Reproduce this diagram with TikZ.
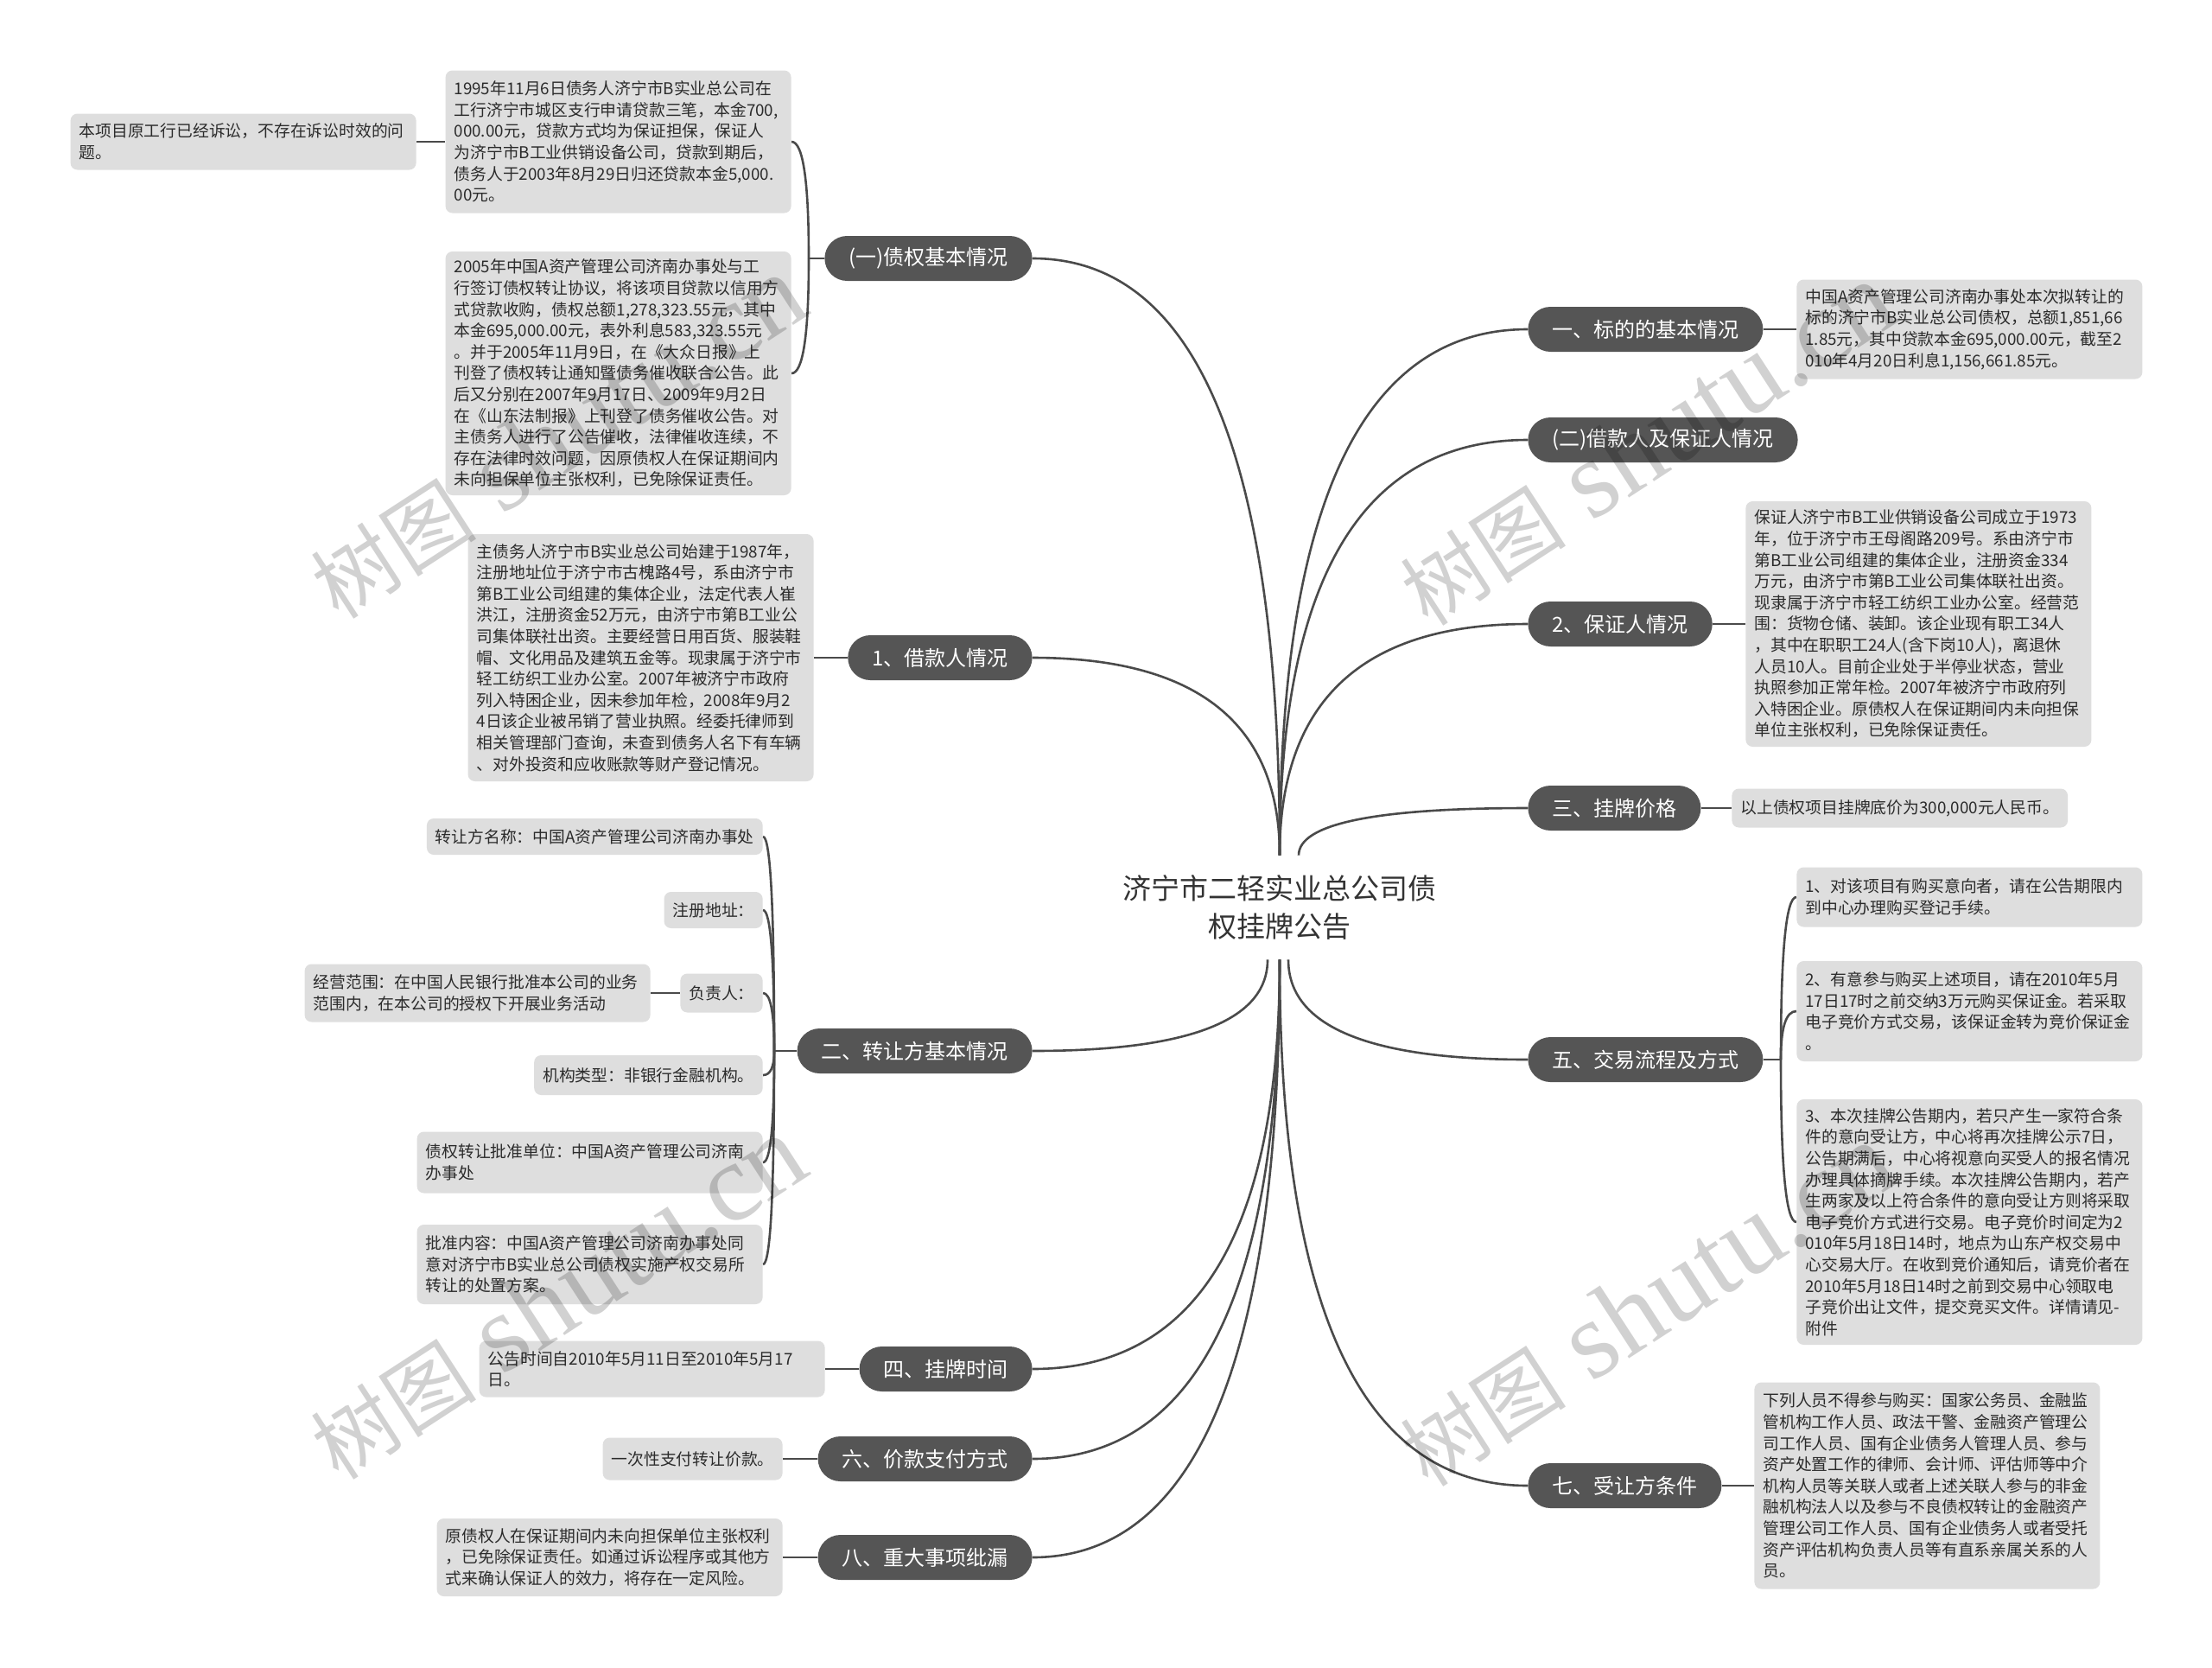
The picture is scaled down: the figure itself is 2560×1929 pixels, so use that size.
\documentclass[tikz,border=0pt]{standalone}
\usepackage{fontspec}
\setmainfont{Noto Sans CJK SC}
\newfontfamily\wmlatin{Liberation Serif}
\usetikzlibrary{calc}
\pgfdeclarelayer{bg}
\pgfsetlayers{bg,main}
\definecolor{pillc}{HTML}{555555}
\definecolor{linec}{HTML}{4A4A4A}
\definecolor{leafc}{HTML}{DEDEDE}
\definecolor{txtc}{HTML}{2B2B2B}
\definecolor{titlec}{HTML}{333333}
\newcommand\mmbranch[2]{\draw[conn] (#1) .. controls ($(#1)!0.6667!(#1|-#2)$) and ($(#2)!0.6667!(#1|-#2)$) .. (#2);}
\newcommand\wmtext{\fontsize{48pt}{48pt}\selectfont 树图\hspace{16pt}{\wmlatin\fontsize{64pt}{64pt}\selectfont shutu.cn}}
\begin{document}
\begin{tikzpicture}[x=0.5pt,y=-0.5pt,
  title/.style={align=center, text=titlec, minimum height=60pt, inner ysep=2pt, font=\fontsize{16.5pt}{22pt}\selectfont},
  pill/.style={fill=pillc, rounded corners=13pt, minimum height=26pt, inner xsep=14pt, inner ysep=0pt, text=white, font=\fontsize{12pt}{14pt}\selectfont},
  leaf/.style={fill=leafc, rounded corners=4pt, inner xsep=5pt, inner ysep=3pt, text=txtc, align=left, font=\fontsize{9.4pt}{12.3pt}\selectfont},
  wide/.style={text width=190pt},
  conn/.style={draw=linec, line width=1.3pt},
  wm/.style={rotate=33, text=black, text opacity=0.18, inner sep=0pt}
]
\useasboundingbox (0,0) rectangle (2560,1929);

% centre
\node[title] (C) at (1481,1050) {济宁市二轻实业总公司债\\权挂牌公告};

% main branches, right
\node[pill,anchor=west] (P1) at (1768,381) {一、标的的基本情况};
\node[pill,anchor=west] (P2) at (1768,509) {(二)借款人及保证人情况};
\node[pill,anchor=west] (P3) at (1768,722) {2、保证人情况};
\node[pill,anchor=west] (P4) at (1768,935) {三、挂牌价格};
\node[pill,anchor=west] (P5) at (1768,1226) {五、交易流程及方式};
\node[pill,anchor=west] (P6) at (1768,1719) {七、受让方条件};
% main branches, left
\node[pill,anchor=east] (Q1) at (1195,299) {(一)债权基本情况};
\node[pill,anchor=east] (Q2) at (1195,761) {1、借款人情况};
\node[pill,anchor=east] (Q3) at (1195,1216) {二、转让方基本情况};
\node[pill,anchor=east] (Q4) at (1195,1584) {四、挂牌时间};
\node[pill,anchor=east] (Q5) at (1195,1688) {六、价款支付方式};
\node[pill,anchor=east] (Q6) at (1195,1802) {八、重大事项纰漏};

% leaves, left
\node[leaf,wide,anchor=east,minimum height=82.5pt] (A1) at (916,164) {1995年11月6日债务人济宁市B实业总公司在\\工行济宁市城区支行申请贷款三笔，本金700,\\000.00元，贷款方式均为保证担保，保证人\\为济宁市B工业供销设备公司，贷款到期后，\\债务人于2003年8月29日归还贷款本金5,000.\\00元。};
\node[leaf,wide,anchor=east,minimum height=32.5pt] (A0) at (482,164) {本项目原工行已经诉讼，不存在诉讼时效的问\\题。};
\node[leaf,wide,anchor=east,minimum height=141pt] (A2) at (916,432) {2005年中国A资产管理公司济南办事处与工\\行签订债权转让协议，将该项目贷款以信用方\\式贷款收购，债权总额1,278,323.55元，其中\\本金695,000.00元，表外利息583,323.55元\\。并于2005年11月9日，在《大众日报》上\\刊登了债权转让通知暨债务催收联合公告。此\\后又分别在2007年9月17日、2009年9月2日\\在《山东法制报》上刊登了债务催收公告。对\\主债务人进行了公告催收，法律催收连续，不\\存在法律时效问题，因原债权人在保证期间内\\未向担保单位主张权利，已免除保证责任。};
\node[leaf,wide,anchor=east,minimum height=143pt] (B) at (942,761) {主债务人济宁市B实业总公司始建于1987年，\\注册地址位于济宁市古槐路4号，系由济宁市\\第B工业公司组建的集体企业，法定代表人崔\\洪江，注册资金52万元，由济宁市第B工业公\\司集体联社出资。主要经营日用百货、服装鞋\\帽、文化用品及建筑五金等。现隶属于济宁市\\轻工纺织工业办公室。2007年被济宁市政府\\列入特困企业，因未参加年检，2008年9月2\\4日该企业被吊销了营业执照。经委托律师到\\相关管理部门查询，未查到债务人名下有车辆\\、对外投资和应收账款等财产登记情况。};
\node[leaf,anchor=east,minimum height=21pt] (C1) at (883,968) {转让方名称：中国A资产管理公司济南办事处};
\node[leaf,anchor=east,minimum height=21pt] (C2) at (883,1053) {注册地址：};
\node[leaf,anchor=east,minimum height=22.5pt] (C3) at (883,1149) {负责人：};
\node[leaf,wide,anchor=east,minimum height=33.5pt] (C3a) at (753,1149) {经营范围：在中国人民银行批准本公司的业务\\范围内，在本公司的授权下开展业务活动};
\node[leaf,anchor=east,minimum height=23pt] (C4) at (883,1244) {机构类型：非银行金融机构。};
\node[leaf,wide,anchor=east,minimum height=35.5pt] (C5) at (883,1345) {债权转让批准单位：中国A资产管理公司济南\\办事处};
\node[leaf,wide,anchor=east,minimum height=46pt] (C6) at (883,1463) {批准内容：中国A资产管理公司济南办事处同\\意对济宁市B实业总公司债权实施产权交易所\\转让的处置方案。};
\node[leaf,wide,anchor=east,minimum height=32.5pt] (D1) at (955,1584) {公告时间自2010年5月11日至2010年5月17\\日。};
\node[leaf,anchor=east,minimum height=24.5pt] (D2) at (906,1688) {一次性支付转让价款。};
\node[leaf,wide,anchor=east,minimum height=45pt] (D3) at (906,1802) {原债权人在保证期间内未向担保单位主张权利\\，已免除保证责任。如通过诉讼程序或其他方\\式来确认保证人的效力，将存在一定风险。};

% leaves, right
\node[leaf,wide,anchor=west,minimum height=57.5pt] (E1) at (2079,381) {中国A资产管理公司济南办事处本次拟转让的\\标的济宁市B实业总公司债权，总额1,851,66\\1.85元，其中贷款本金695,000.00元，截至2\\010年4月20日利息1,156,661.85元。};
\node[leaf,wide,anchor=west,minimum height=142pt] (E2) at (2020,722) {保证人济宁市B工业供销设备公司成立于1973\\年，位于济宁市王母阁路209号。系由济宁市\\第B工业公司组建的集体企业，注册资金334\\万元，由济宁市第B工业公司集体联社出资。\\现隶属于济宁市轻工纺织工业办公室。经营范\\围：货物仓储、装卸。该企业现有职工34人\\，其中在职职工24人(含下岗10人)，离退休\\人员10人。目前企业处于半停业状态，营业\\执照参加正常年检。2007年被济宁市政府列\\入特困企业。原债权人在保证期间内未向担保\\单位主张权利，已免除保证责任。};
\node[leaf,anchor=west,minimum height=22.5pt] (E3) at (2004,935) {以上债权项目挂牌底价为300,000元人民币。};
\node[leaf,wide,anchor=west,minimum height=34.5pt] (E4) at (2079,1038) {1、对该项目有购买意向者，请在公告期限内\\到中心办理购买登记手续。};
\node[leaf,wide,anchor=west,minimum height=58pt] (E5) at (2079,1170) {2、有意参与购买上述项目，请在2010年5月\\17日17时之前交纳3万元购买保证金。若采取\\电子竞价方式交易，该保证金转为竞价保证金\\。};
\node[leaf,wide,anchor=west,minimum height=142pt] (E6) at (2079,1414) {3、本次挂牌公告期内，若只产生一家符合条\\件的意向受让方，中心将再次挂牌公示7日，\\公告期满后，中心将视意向买受人的报名情况\\办理具体摘牌手续。本次挂牌公告期内，若产\\生两家及以上符合条件的意向受让方则将采取\\电子竞价方式进行交易。电子竞价时间定为2\\010年5月18日14时，地点为山东产权交易中\\心交易大厅。在收到竞价通知后，请竞价者在\\2010年5月18日14时之前到交易中心领取电\\子竞价出让文件，提交竞买文件。详情请见-\\附件};
\node[leaf,wide,anchor=west,minimum height=119.5pt] (E7) at (2030,1719) {下列人员不得参与购买：国家公务员、金融监\\管机构工作人员、政法干警、金融资产管理公\\司工作人员、国有企业债务人管理人员、参与\\资产处置工作的律师、会计师、评估师等中介\\机构人员等关联人或者上述关联人参与的非金\\融机构法人以及参与不良债权转让的金融资产\\管理公司工作人员、国有企业债务人或者受托\\资产评估机构负责人员等有直系亲属关系的人\\员。};

% connectors
\coordinate (st3) at ([xshift=11pt]C.north);
\coordinate (sbl) at ([xshift=-7pt]C.south);
\coordinate (sbr) at ([xshift=5pt]C.south);
\coordinate (J1) at (936,299);
\coordinate (J3) at (896,1216);
\coordinate (J5) at (2061,1226);
\begin{pgfonlayer}{bg}
\fill[white] (0,0) rectangle (2560,1929);
\mmbranch{C.north}{Q1.east}
\mmbranch{C.north}{Q2.east}
\mmbranch{C.north}{P1.west}
\mmbranch{C.north}{P2.west}
\mmbranch{C.north}{P3.west}
\mmbranch{st3}{P4.west}
\mmbranch{sbl}{Q3.east}
\mmbranch{C.south}{Q4.east}
\mmbranch{C.south}{Q5.east}
\mmbranch{C.south}{Q6.east}
\mmbranch{sbr}{P5.west}
\mmbranch{C.south}{P6.west}
% leaf links
\draw[conn] (Q1.west) -- (J1);
\mmbranch{J1}{A1.east}
\mmbranch{J1}{A2.east}
\draw[conn] (A1.west) -- (A0.east);
\draw[conn] (Q2.west) -- (B.east);
\draw[conn] (Q3.west) -- (J3);
\mmbranch{J3}{C1.east}
\mmbranch{J3}{C2.east}
\mmbranch{J3}{C3.east}
\mmbranch{J3}{C4.east}
\mmbranch{J3}{C5.east}
\mmbranch{J3}{C6.east}
\draw[conn] (C3.west) -- (C3a.east);
\draw[conn] (Q4.west) -- (D1.east);
\draw[conn] (Q5.west) -- (D2.east);
\draw[conn] (Q6.west) -- (D3.east);
\draw[conn] (P1.east) -- (E1.west);
\draw[conn] (P3.east) -- (E2.west);
\draw[conn] (P4.east) -- (E3.west);
\draw[conn] (P5.east) -- (J5);
\mmbranch{J5}{E4.west}
\mmbranch{J5}{E5.west}
\mmbranch{J5}{E6.west}
\draw[conn] (P6.east) -- (E7.west);
\end{pgfonlayer}

% watermarks
\node[wm] (W1) at (645,506) {\wmtext};
\node[wm] (W2) at (1906,514) {\wmtext};
\node[wm] (W3) at (645,1502) {\wmtext};
\node[wm] (W4) at (1906,1510) {\wmtext};
\end{tikzpicture}
\end{document}
